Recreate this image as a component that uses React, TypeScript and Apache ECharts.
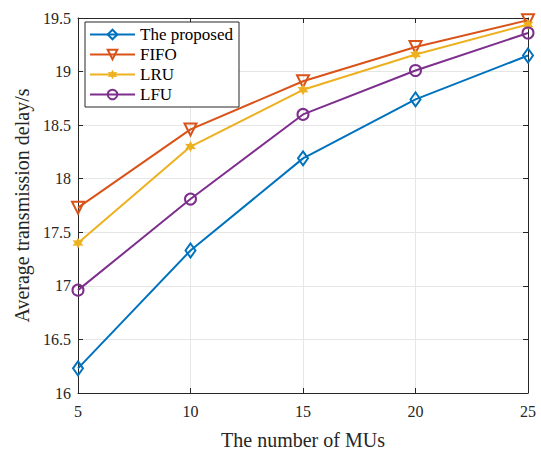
import React, { useEffect, useRef } from "react";
import * as echarts from "echarts";

const xCategories = [5, 10, 15, 20, 25];
const proposed = [16.23, 17.33, 18.19, 18.74, 19.15];
const fifo = [17.73, 18.46, 18.91, 19.23, 19.48];
const lru = [17.4, 18.3, 18.83, 19.16, 19.44];
const lfu = [16.96, 17.81, 18.6, 19.01, 19.36];
const seriesNames = ["The proposed", "FIFO", "LRU", "LFU"];
const colors = ["#0072BD", "#D95319", "#EDB120", "#7E2F8E"];

const FONT = "Liberation Serif";
const star =
  "path://M0,-10 L2.6,-4.5 L8.7,-5 L5.2,0 L8.7,5 L2.6,4.5 L0,10 L-2.6,4.5 L-8.7,5 L-5.2,0 L-8.7,-5 L-2.6,-4.5 Z";

export default function App() {
  const ref = useRef<HTMLDivElement>(null);
  useEffect(() => {
    if (!ref.current) return;
    const chart = echarts.init(ref.current, undefined, { renderer: "svg" });
    const mk = (name: string, data: number[], color: string, symbol: string, size: any, rotate = 0, filled = false) => ({
      name,
      type: "line",
      data: xCategories.map((x, i) => [x, data[i]]),
      symbol,
      symbolSize: size,
      symbolRotate: rotate,
      lineStyle: { color, width: 2 },
      itemStyle: filled
        ? { color, borderColor: color, borderWidth: 0 }
        : { color: "rgba(255,255,255,0)", borderColor: color, borderWidth: 2 },
      emphasis: { disabled: true },
    });
    const axisLine = { show: true, lineStyle: { color: "#262626", width: 1 } };
    chart.setOption({
      animation: false,
      backgroundColor: "#fff",
      grid: { left: 78, right: 13, top: 18, bottom: 56, containLabel: false },
      legend: {
        left: 85,
        top: 22,
        orient: "vertical",
        itemWidth: 45,
        itemHeight: 12,
        itemGap: 3,
        padding: [4, 6, 4, 4],
        borderColor: "#262626",
        borderWidth: 1,
        backgroundColor: "#fff",
        textStyle: { fontFamily: FONT, fontSize: 17, color: "#000" },
        data: seriesNames,
      },
      xAxis: [
        {
          type: "value",
          min: 5,
          max: 25,
          interval: 5,
          name: "The number of MUs",
          nameLocation: "middle",
          nameGap: 37,
          nameTextStyle: { fontFamily: FONT, fontSize: 20, color: "#262626" },
          axisLine,
          axisTick: { show: true, inside: true, length: 5, lineStyle: { color: "#262626" } },
          axisLabel: { fontFamily: FONT, fontSize: 16, color: "#262626", margin: 10 },
          splitLine: { show: true, lineStyle: { color: "#e6e6e6", width: 1 } },
        },
        {
          type: "value",
          position: "top",
          min: 5,
          max: 25,
          interval: 5,
          axisLine,
          axisTick: { show: true, inside: true, length: 5, lineStyle: { color: "#262626" } },
          axisLabel: { show: false },
          splitLine: { show: false },
        },
      ],
      yAxis: [
        {
          type: "value",
          min: 16,
          max: 19.5,
          interval: 0.5,
          name: "Average transmission delay/s",
          nameLocation: "middle",
          nameGap: 46,
          nameTextStyle: { fontFamily: FONT, fontSize: 20, color: "#262626" },
          axisLine,
          axisTick: { show: true, inside: true, length: 5, lineStyle: { color: "#262626" } },
          axisLabel: { fontFamily: FONT, fontSize: 16, color: "#262626", margin: 7 },
          splitLine: { show: true, lineStyle: { color: "#e6e6e6", width: 1 } },
        },
        {
          type: "value",
          position: "right",
          min: 16,
          max: 19.5,
          interval: 0.5,
          axisLine,
          axisTick: { show: true, inside: true, length: 5, lineStyle: { color: "#262626" } },
          axisLabel: { show: false },
          splitLine: { show: false },
        },
      ],
      series: [
        mk(seriesNames[0], proposed, colors[0], "diamond", [10, 14]),
        mk(seriesNames[1], fifo, colors[1], "triangle", 12, 180),
        mk(seriesNames[2], lru, colors[2], star, 11, 0, true),
        mk(seriesNames[3], lfu, colors[3], "circle", 11),
      ],
    });
    return () => chart.dispose();
  }, []);
  return <div ref={ref} style={{ width: 541, height: 455, position: "absolute", left: 0, top: 0 }} />;
}
